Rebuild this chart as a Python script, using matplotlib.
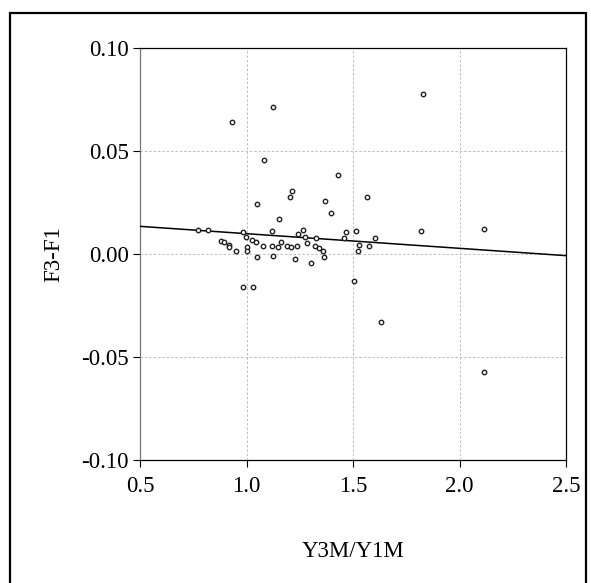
import numpy as np
import matplotlib.pyplot as plt
from matplotlib.patches import Rectangle

# Y3M/Y1M ratio against F3-F1
x_vals = [1.082, 1.429, 1.214, 1.206, 1.367, 1.568, 1.050, 1.398, 1.153, 0.774,
          0.821, 0.984, 1.118, 1.263, 1.244, 1.466, 1.514, 0.999, 1.274, 1.324,
          1.459, 1.604, 0.881, 0.892, 1.027, 1.043, 1.160, 1.286, 0.918, 0.917,
          1.002, 1.076, 1.121, 1.148, 1.191, 1.209, 1.239, 1.323, 1.342, 1.360,
          1.527, 1.576, 1.524, 0.951, 1.002, 1.047, 1.126, 1.226, 1.363, 1.305,
          0.983, 1.032, 1.507, 0.931, 1.124, 1.829, 1.818, 2.115, 1.632, 2.115]
y_vals = [0.0453, 0.0383, 0.0304, 0.0277, 0.0258, 0.0274, 0.0240, 0.0197, 0.0170, 0.0117,
          0.0117, 0.0106, 0.0111, 0.0117, 0.0096, 0.0106, 0.0111, 0.0082, 0.0082, 0.0078,
          0.0075, 0.0075, 0.0063, 0.0056, 0.0067, 0.0056, 0.0059, 0.0051, 0.0045, 0.0032,
          0.0035, 0.0038, 0.0038, 0.0032, 0.0037, 0.0032, 0.0037, 0.0038, 0.0027, 0.0013,
          0.0042, 0.0038, 0.0013, 0.0013, 0.0016, -0.0016, -0.0008, -0.0026, -0.0016, -0.0045,
          -0.0162, -0.0162, -0.0130, 0.0638, 0.0713, 0.0774, 0.0111, 0.0119, -0.0332, -0.0571]

# regression line: intercept, slope
fit_a = 0.0169
fit_b = -0.0071

xticks = [0.5, 1.0, 1.5, 2.0, 2.5]
xtick_labels = ['0.5', '1.0', '1.5', '2.0', '2.5']
yticks = [-0.10, -0.05, 0.00, 0.05, 0.10]
ytick_labels = ['-0.10', '-0.05', '0.00', '0.05', '0.10']

plt.rcParams['font.family'] = ['Liberation Serif', 'DejaVu Serif']

fig = plt.figure(figsize=(5.91, 5.83), dpi=100)
ax = fig.add_axes([0.2369, 0.2105, 0.7208, 0.708])

# outer frame
fig.patches.append(Rectangle((10/591, -0.02), 576/591, 1 - 13/583 + 0.02,
                             transform=fig.transFigure, fill=False,
                             edgecolor='black', linewidth=1.6))

ax.set_xlim(0.5, 2.5)
ax.set_ylim(-0.10, 0.10)

ax.grid(True, color='#bdbdbd', linestyle=(0, (2.5, 2)), linewidth=0.7)
ax.set_axisbelow(True)

xl = np.array([0.5, 2.5])
ax.plot(xl, fit_a + fit_b * xl, color='black', linewidth=1.1, zorder=3)
ax.plot(x_vals, y_vals, linestyle='none', marker='o', markersize=3.2,
        markerfacecolor='white', markeredgecolor='#222222',
        markeredgewidth=1.0, zorder=4)

ax.set_xticks(xticks)
ax.set_xticklabels(xtick_labels)
ax.set_yticks(yticks)
ax.set_yticklabels(ytick_labels)
ax.tick_params(direction='out', length=5, width=0.8, labelsize=16.5, colors='black')
ax.tick_params(axis='y', pad=3)
ax.tick_params(axis='x', pad=6)

for s in ax.spines.values():
    s.set_linewidth(0.9)
    s.set_color('black')
ax.spines['left'].set_color('#777777')

ax.set_xlabel('Y3M/Y1M', fontsize=16.5, labelpad=32)
ax.set_ylabel('F3-F1', fontsize=16.5, labelpad=12)

fig.savefig('out.png', dpi=100)
